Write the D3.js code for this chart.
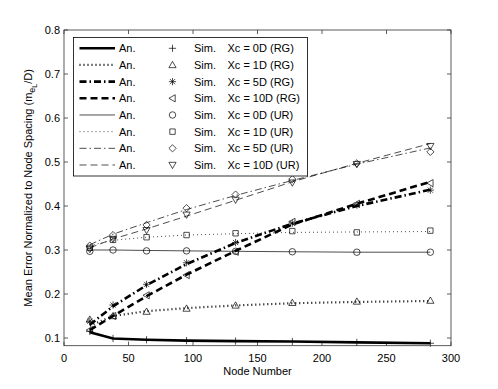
<!DOCTYPE html>
<html>
<head>
<meta charset="utf-8">
<script src="https://cdn.jsdelivr.net/npm/d3@7"></script>
<style>
  body { margin: 0; background: #fff; }
  svg { display: block; font-family: "Liberation Sans", Arial, sans-serif; }
</style>
</head>
<body>
<svg width="498" height="389"></svg>
<script>
// node counts on the x axis
nodes = [20, 38, 64, 95, 133, 177, 227, 284];

// analytical curves
anRG0  = [0.113, 0.099, 0.096, 0.094, 0.093, 0.092, 0.090, 0.088];
anRG1  = [0.128, 0.150, 0.161, 0.168, 0.174, 0.179, 0.182, 0.184];
anRG5  = [0.130, 0.172, 0.220, 0.268, 0.316, 0.360, 0.400, 0.437];
anRG10 = [0.118, 0.150, 0.195, 0.244, 0.298, 0.358, 0.405, 0.455];
anUR0  = [0.300, 0.300, 0.299, 0.298, 0.297, 0.296, 0.295, 0.295];
anUR1  = [0.310, 0.322, 0.329, 0.334, 0.337, 0.340, 0.341, 0.342];
anUR5  = [0.312, 0.336, 0.362, 0.392, 0.424, 0.458, 0.495, 0.532];
anUR10 = [0.305, 0.325, 0.348, 0.377, 0.413, 0.455, 0.497, 0.542];

// simulation points
simRG0  = [0.115, 0.099, 0.096, 0.094, 0.093, 0.092, 0.090, 0.088];
simRG1  = [0.142, 0.150, 0.160, 0.167, 0.174, 0.180, 0.183, 0.185];
simRG5  = [0.138, 0.175, 0.222, 0.271, 0.317, 0.361, 0.402, 0.436];
simRG10 = [0.118, 0.150, 0.197, 0.243, 0.296, 0.364, 0.405, 0.452];
simUR0  = [0.297, 0.300, 0.298, 0.298, 0.297, 0.296, 0.295, 0.295];
simUR1  = [0.305, 0.323, 0.329, 0.334, 0.338, 0.343, 0.340, 0.344];
simUR5  = [0.310, 0.334, 0.357, 0.395, 0.426, 0.461, 0.497, 0.523];
simUR10 = [0.302, 0.325, 0.345, 0.380, 0.414, 0.453, 0.495, 0.536];

legendNames = ["Xc = 0D (RG)", "Xc = 1D (RG)", "Xc = 5D (RG)", "Xc = 10D (RG)",
               "Xc = 0D (UR)", "Xc = 1D (UR)", "Xc = 5D (UR)", "Xc = 10D (UR)"];
xTicks = [0, 50, 100, 150, 200, 250, 300];
yTicks = [0.1, 0.2, 0.3, 0.4, 0.5, 0.6, 0.7, 0.8];

// line styles: width + dash
styles = [
  {w: 2.6, dash: null},
  {w: 2.2, dash: "1,3"},
  {w: 2.6, dash: "7,3,1.5,3"},
  {w: 2.6, dash: "7,4"},
  {w: 0.7, dash: null},
  {w: 0.7, dash: "1,3"},
  {w: 0.7, dash: "7,3,1.5,3"},
  {w: 0.7, dash: "7,4"}
];

series = [
  {an: anRG0, sim: simRG0, mk: "plus"},
  {an: anRG1, sim: simRG1, mk: "tri-up"},
  {an: anRG5, sim: simRG5, mk: "star"},
  {an: anRG10, sim: simRG10, mk: "tri-left"},
  {an: anUR0, sim: simUR0, mk: "circle"},
  {an: anUR1, sim: simUR1, mk: "square"},
  {an: anUR5, sim: simUR5, mk: "diamond"},
  {an: anUR10, sim: simUR10, mk: "tri-down"}
];

function markerPath(type, r) {
  const p = d3.path();
  switch (type) {
    case "plus":
      p.moveTo(-r, 0); p.lineTo(r, 0); p.moveTo(0, -r); p.lineTo(0, r); break;
    case "star":
      p.moveTo(-r, 0); p.lineTo(r, 0); p.moveTo(0, -r); p.lineTo(0, r);
      const k = r * 0.72;
      p.moveTo(-k, -k); p.lineTo(k, k); p.moveTo(-k, k); p.lineTo(k, -k); break;
    case "tri-up":
      p.moveTo(0, -r); p.lineTo(r, r * 0.75); p.lineTo(-r, r * 0.75); p.closePath(); break;
    case "tri-down":
      p.moveTo(0, r); p.lineTo(r, -r * 0.75); p.lineTo(-r, -r * 0.75); p.closePath(); break;
    case "tri-left":
      p.moveTo(-r, 0); p.lineTo(r * 0.75, -r); p.lineTo(r * 0.75, r); p.closePath(); break;
    case "circle":
      p.arc(0, 0, r * 0.9, 0, 2 * Math.PI); break;
    case "square":
      p.rect(-r * 0.75, -r * 0.75, r * 1.5, r * 1.5); break;
    case "diamond":
      p.moveTo(0, -r); p.lineTo(r, 0); p.lineTo(0, r); p.lineTo(-r, 0); p.closePath(); break;
  }
  return p.toString();
}

function draw() {
  const svg = d3.select("svg");
  const left = 64, right = 451, top = 30, bottom = 345.7;

  const x = d3.scaleLinear().domain([0, 300]).range([left, right]);
  const y = d3.scaleLinear().domain([0.0825, 0.8]).range([bottom, top]);

  // ticks inside, on all four sides
  const tk = 4;
  const g = svg.append("g").attr("stroke", "#333").attr("stroke-width", 0.8);
  xTicks.forEach(t => {
    g.append("line").attr("x1", x(t)).attr("x2", x(t)).attr("y1", bottom).attr("y2", bottom - tk);
    g.append("line").attr("x1", x(t)).attr("x2", x(t)).attr("y1", top).attr("y2", top + tk);
  });
  yTicks.forEach(t => {
    g.append("line").attr("x1", left).attr("x2", left + tk).attr("y1", y(t)).attr("y2", y(t));
    g.append("line").attr("x1", right).attr("x2", right - tk).attr("y1", y(t)).attr("y2", y(t));
  });

  svg.append("g").attr("font-size", 11).attr("text-anchor", "middle")
    .selectAll("text").data(xTicks).join("text")
      .attr("x", d => x(d)).attr("y", bottom + 16)
      .text(d => d);
  svg.append("g").attr("font-size", 11).attr("text-anchor", "end")
    .selectAll("text").data(yTicks).join("text")
      .attr("x", left - 4).attr("y", d => y(d) + 4)
      .text(d => d3.format(".1f")(d));

  // series
  const line = d3.line().x((d, i) => x(nodes[i])).y(d => y(d));
  series.forEach((s, i) => {
    svg.append("path")
      .attr("d", line(s.an))
      .attr("fill", "none").attr("stroke", "#000")
      .attr("stroke-width", styles[i].w)
      .attr("stroke-dasharray", styles[i].dash);
  });
  series.forEach((s, i) => {
    svg.append("g").selectAll("path").data(s.sim).join("path")
      .attr("transform", (d, j) => `translate(${x(nodes[j])},${y(d)})`)
      .attr("d", markerPath(s.mk, 3.6))
      .attr("fill", "none").attr("stroke", "#000").attr("stroke-width", 0.7);
  });

  // frame
  svg.append("rect")
    .attr("x", left).attr("y", top)
    .attr("width", right - left).attr("height", bottom - top)
    .attr("fill", "none").attr("stroke", "#333").attr("stroke-width", 0.8);

  // legend
  const lg = svg.append("g");
  lg.append("rect").attr("x", 73.5).attr("y", 37.5).attr("width", 234).attr("height", 138.5)
    .attr("fill", "#fff").attr("stroke", "#000").attr("stroke-width", 0.8);
  legendNames.forEach((name, i) => {
    const cy = 48.3 + i * 16.67;
    lg.append("line").attr("x1", 79.5).attr("x2", 115).attr("y1", cy).attr("y2", cy)
      .attr("stroke", "#000").attr("stroke-width", styles[i].w)
      .attr("stroke-dasharray", styles[i].dash);
    lg.append("text").attr("x", 119).attr("y", cy + 4).attr("font-size", 11).text("An.");
    lg.append("path").attr("transform", `translate(172.5,${cy})`)
      .attr("d", markerPath(series[i].mk, 3.6))
      .attr("fill", "none").attr("stroke", "#000").attr("stroke-width", 0.7);
    lg.append("text").attr("x", 194).attr("y", cy + 4).attr("font-size", 11).text("Sim.");
    lg.append("text").attr("x", 227.5).attr("y", cy + 4).attr("font-size", 11).text(name);
  });

  // axis labels
  svg.append("text").attr("x", (left + right) / 2).attr("y", 375)
    .attr("text-anchor", "middle").attr("font-size", 11).text("Node Number");

  const yl = svg.append("text")
    .attr("transform", `translate(32,${(top + bottom) / 2}) rotate(-90)`)
    .attr("text-anchor", "middle").attr("font-size", 11);
  yl.append("tspan").text("Mean Error Normalized to Node Spacing (m");
  yl.append("tspan").attr("font-size", 9).attr("dy", 3).text("e");
  yl.append("tspan").attr("font-size", 7).attr("dy", 2).text("L");
  yl.append("tspan").attr("dy", -5).text("/D)");
}
draw();
</script>
</body>
</html>
